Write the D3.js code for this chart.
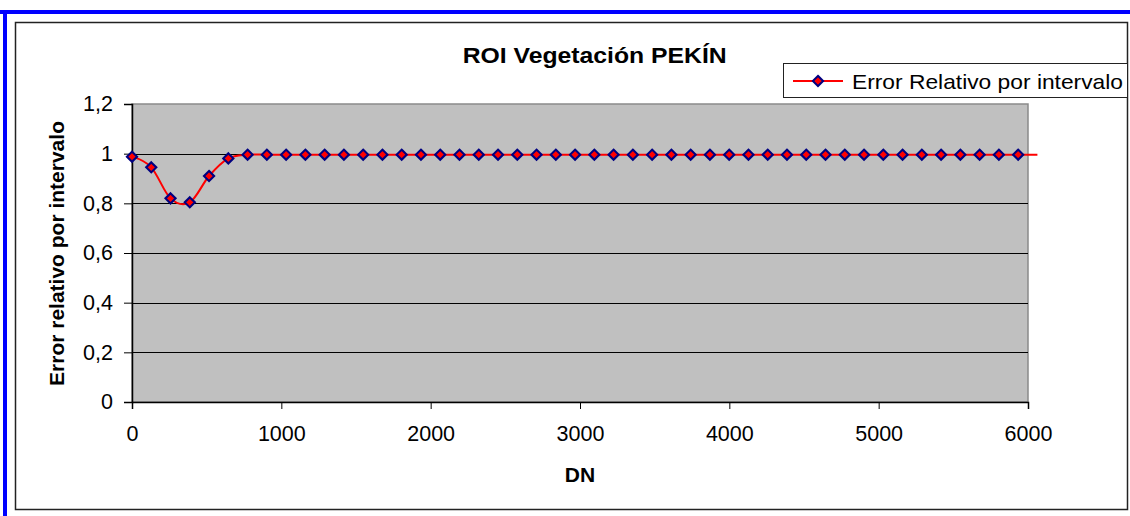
<!DOCTYPE html>
<html>
<head>
<meta charset="utf-8">
<script src="https://cdn.jsdelivr.net/npm/d3@7"></script>
<style>
  html, body { margin: 0; padding: 0; background: #fff; }
  svg { display: block; font-family: "Liberation Sans", Arial, sans-serif; }
</style>
</head>
<body>
<svg id="chart" width="1130" height="516"></svg>
<script>
// DN sample positions (x) and relative error per interval (y)
const dn = [0, 129, 258, 387, 516, 645, 774, 903, 1032, 1161, 1290, 1419, 1548, 1677,
  1806, 1935, 2064, 2193, 2322, 2451, 2580, 2709, 2838, 2967, 3096, 3225, 3354, 3483,
  3612, 3741, 3870, 3999, 4128, 4257, 4386, 4515, 4644, 4773, 4902, 5031, 5160, 5289,
  5418, 5547, 5676, 5805, 5934, 6063];
const errorRel = [0.988, 0.945, 0.820, 0.804, 0.910, 0.981, 0.996, 0.996, 0.996, 0.996,
  0.996, 0.996, 0.996, 0.996, 0.996, 0.996, 0.996, 0.996, 0.996, 0.996, 0.996, 0.996,
  0.996, 0.996, 0.996, 0.996, 0.996, 0.996, 0.996, 0.996, 0.996, 0.996, 0.996, 0.996,
  0.996, 0.996, 0.996, 0.996, 0.996, 0.996, 0.996, 0.996, 0.996, 0.996, 0.996, 0.996,
  0.996, 0.996];
const xTicks = [0, 1000, 2000, 3000, 4000, 5000, 6000];
const yTicks = [0, 0.2, 0.4, 0.6, 0.8, 1, 1.2];
const seriesName = "Error Relativo por intervalo";
const titleText = "ROI Vegetación PEKÍN";
const xTitle = "DN";
const yTitle = "Error relativo por intervalo";

const svg = d3.select("#chart");
const plot = { left: 132, right: 1028, top: 104, bottom: 402 };

const x = d3.scaleLinear().domain([0, 6000]).range([plot.left, plot.right]);
const y = d3.scaleLinear().domain([0, 1.2]).range([plot.bottom, plot.top]);
const fmt = d => String(d).replace(".", ",");

// outer blue frame (top and left edges)
svg.append("rect").attr("x", 0).attr("y", 10).attr("width", 1130).attr("height", 4).attr("fill", "#0000ff");
svg.append("rect").attr("x", 3).attr("y", 10).attr("width", 4).attr("height", 506).attr("fill", "#0000ff");

// chart area border
svg.append("rect").attr("x", 15.5).attr("y", 22.5).attr("width", 1112).attr("height", 487)
  .attr("fill", "#fff").attr("stroke", "#222").attr("stroke-width", 1.5);

// plot area
svg.append("rect").attr("x", plot.left).attr("y", plot.top)
  .attr("width", plot.right - plot.left).attr("height", plot.bottom - plot.top)
  .attr("fill", "#c0c0c0").attr("stroke", "#8a8a8a").attr("stroke-width", 1.5);

// horizontal gridlines
svg.append("g").selectAll("line").data(yTicks.filter(d => d > 0 && d < 1.2)).join("line")
  .attr("x1", plot.left).attr("x2", plot.right)
  .attr("y1", d => Math.round(y(d)) + 0.5).attr("y2", d => Math.round(y(d)) + 0.5)
  .attr("stroke", "#000").attr("stroke-width", 1);

// axes
const yAxis = svg.append("g").attr("transform", `translate(${plot.left},0)`)
  .call(d3.axisLeft(y).tickValues(yTicks).tickFormat(fmt).tickSizeOuter(0).tickSize(8).tickPadding(11));
const xAxis = svg.append("g").attr("transform", `translate(0,${plot.bottom})`)
  .call(d3.axisBottom(x).tickValues(xTicks).tickFormat(d => String(d)).tickSizeOuter(0).tickSize(7).tickPadding(17));
[yAxis, xAxis].forEach(a => {
  a.selectAll("path").attr("stroke", "#000").attr("stroke-width", 1.5);
  a.selectAll("line").attr("stroke", "#000");
  a.selectAll("text").attr("font-size", 21.5).attr("fill", "#000")
    .attr("font-family", "Liberation Sans, Arial, sans-serif");
});

// series line (smoothed)
const pts = dn.map((d, i) => [d, errorRel[i]]);
const line = d3.line().x(d => x(d[0])).y(d => y(d[1])).curve(d3.curveCatmullRom.alpha(0));
svg.append("path").datum(pts).attr("d", line)
  .attr("fill", "none").attr("stroke", "#ff0000").attr("stroke-width", 2);

// diamond markers (only inside the plot range)
const diamond = d3.symbol().type(d3.symbolDiamond).size(60);
const markerShape = "scale(1.22,0.7)";
svg.append("g").selectAll("path").data(pts.filter(d => d[0] <= 6000)).join("path")
  .attr("d", diamond)
  .attr("transform", d => `translate(${x(d[0])},${y(d[1])}) ${markerShape}`)
  .attr("fill", "#ff0000").attr("stroke", "#000080").attr("stroke-width", 2.1);

// title
svg.append("text").attr("x", 594.7).attr("y", 63.3).attr("text-anchor", "middle")
  .attr("font-size", 22.5).attr("font-weight", "bold")
  .attr("textLength", 264).attr("lengthAdjust", "spacingAndGlyphs").text(titleText);

// axis titles
svg.append("text").attr("x", 580).attr("y", 481.5).attr("text-anchor", "middle")
  .attr("font-size", 21).attr("font-weight", "bold").text(xTitle);
svg.append("text").attr("transform", "translate(64,253.5) rotate(-90)").attr("text-anchor", "middle")
  .attr("font-size", 21).attr("font-weight", "bold").text(yTitle);

// legend
const lg = svg.append("g");
lg.append("rect").attr("x", 783.5).attr("y", 63.5).attr("width", 344).attr("height", 34)
  .attr("fill", "#fff").attr("stroke", "#222").attr("stroke-width", 1);
lg.append("line").attr("x1", 793).attr("x2", 843).attr("y1", 81).attr("y2", 81)
  .attr("stroke", "#ff0000").attr("stroke-width", 2);
lg.append("path").attr("d", diamond)
  .attr("transform", `translate(818,81) ${markerShape}`)
  .attr("fill", "#ff0000").attr("stroke", "#000080").attr("stroke-width", 2.1);
lg.append("text").attr("x", 852).attr("y", 88.5).attr("font-size", 21)
  .attr("textLength", 271).attr("lengthAdjust", "spacingAndGlyphs").text(seriesName);
</script>
</body>
</html>
